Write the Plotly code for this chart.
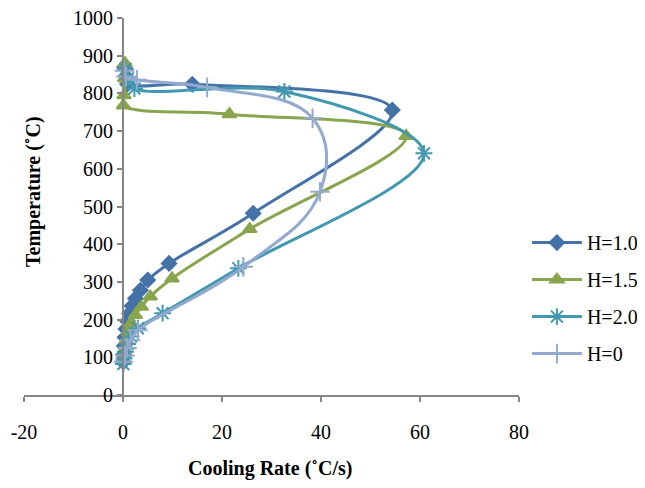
import plotly.graph_objects as go

# Cooling rate (°C/s) and temperature (°C) for each series
h10_rate = [0.3, 0.6, 0.9, 14.0, 54.4, 26.3, 9.3, 5.0, 3.5, 2.5, 1.8, 1.3, 0.9, 0.6, 0.4, 0.25, 0.1, 0.05]
h10_temp = [870, 845, 825, 824, 756, 482, 349, 305, 278, 256, 236, 216, 196, 175, 153, 130, 107, 88]

h15_rate = [0.4, 0.3, 0.2, 0.1, 21.5, 57.2, 25.6, 9.9, 5.5, 3.7, 2.5, 1.6, 1.0, 0.6, 0.3, 0.1]
h15_temp = [880, 840, 795, 768, 745, 687, 440, 309, 261, 234, 212, 190, 168, 145, 120, 95]

h20_rate = [0.5, 1.0, 2.3, 32.6, 60.8, 23.3, 8.0, 3.0, 1.6, 0.9, 0.5, 0.2, 0.05]
h20_temp = [865, 840, 813, 805, 641, 336, 217, 177, 155, 135, 115, 97, 82]

h0_rate = [0.3, 0.6, 2.8, 17.0, 38.3, 39.8, 24.3, 3.0, 1.5, 0.8, 0.4, 0.1]
h0_temp = [860, 845, 836, 816, 734, 539, 340, 172, 145, 125, 105, 88]

x_ticks = [-20, 0, 20, 40, 60, 80]
x_tick_text = ["-20", "0", "20", "40", "60", "80"]
y_ticks = [0, 100, 200, 300, 400, 500, 600, 700, 800, 900, 1000]

FONT = "Liberation Serif, Times New Roman, serif"

series = [
    ("H=1.0", h10_rate, h10_temp, "#4572A7", "diamond", 11, 1.0),
    ("H=1.5", h15_rate, h15_temp, "#89A54E", "triangle-up", 12, 1.0),
    ("H=2.0", h20_rate, h20_temp, "#4198AF", "asterisk-open", 14, 1.0),
    ("H=0", h0_rate, h0_temp, "#93A9CF", "cross-thin-open", 14, 1.2),
]

fig = go.Figure()
for i, (name, xs, ys, col, sym, sz, sm) in enumerate(series):
    fig.add_trace(go.Scatter(
        x=xs, y=ys, name=name, mode="lines+markers",
        line=dict(color=col, width=3, shape="spline", smoothing=sm),
        marker=dict(symbol=sym, size=sz, color=col, line=dict(color=col, width=2)),
        legendgroup=f"g{i}",
    ))

fig.update_layout(
    width=645, height=488,
    margin=dict(l=16, r=134, t=10, b=101, autoexpand=False),
    paper_bgcolor="white", plot_bgcolor="white",
    font=dict(family=FONT, size=20, color="black"),
    showlegend=True,
    legend=dict(x=1.016, y=0.257, xanchor="left", yanchor="middle",
                font=dict(family=FONT, size=20, color="black"),
                traceorder="grouped", tracegroupgap=8, itemwidth=50,
                bgcolor="rgba(0,0,0,0)"),
    xaxis=dict(range=[-20, 80], tickvals=x_ticks, ticktext=x_tick_text,
               showgrid=False, zeroline=False, automargin=False,
               showline=True, linecolor="#868686", linewidth=2,
               ticks="outside", ticklen=5, tickcolor="#868686", tickwidth=2,
               ticklabelstandoff=13, ticklabeloverflow="allow",
               tickfont=dict(family=FONT, size=20)),
    yaxis=dict(range=[0, 1000], tickvals=y_ticks, showgrid=False, zeroline=False,
               showline=True, linecolor="#868686", linewidth=2, automargin=False,
               ticks="outside", ticklen=5, tickcolor="#868686", tickwidth=2,
               anchor="free", position=0.2, ticklabeloverflow="allow",
               tickfont=dict(family=FONT, size=20)),
    annotations=[
        dict(text="<b>Cooling Rate (˚C/s)</b>", xref="paper", yref="paper",
             x=0.497, y=-0.194, showarrow=False, xanchor="center", yanchor="middle",
             font=dict(family=FONT, size=20, color="black")),
        dict(text="<b>Temperature (˚C)</b>", xref="paper", yref="paper",
             x=0.018, y=0.541, showarrow=False, xanchor="center", yanchor="middle",
             textangle=-90, font=dict(family=FONT, size=20, color="black")),
    ],
)

fig.write_html("out.html")
